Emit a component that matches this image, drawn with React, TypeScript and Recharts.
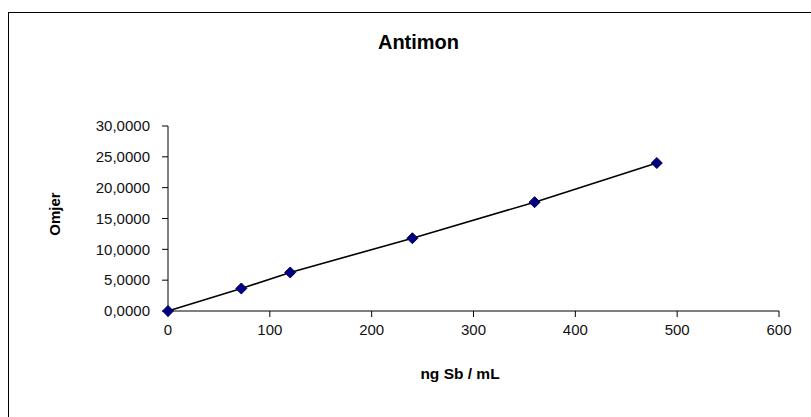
import { ScatterChart, Scatter, XAxis, YAxis } from 'recharts';

const concentration = [0, 72, 120, 240, 360, 480];
const ratio = [0, 3.65, 6.25, 11.8, 17.65, 24.0];
const xTicks = [0, 100, 200, 300, 400, 500, 600];
const yTicks = [0, 5, 10, 15, 20, 25, 30];

const points = concentration.map((x, i) => ({ x, y: ratio[i] }));

const FONT = '"Liberation Sans", Arial, sans-serif';

// excel style diamond marker
function Diamond(props: any) {
  const { cx, cy } = props;
  const r = 5.5;
  return (
    <path
      d={`M${cx},${cy - r}L${cx + r},${cy}L${cx},${cy + r}L${cx - r},${cy}Z`}
      fill="#000080"
      stroke="#00005a"
      strokeWidth={1}
    />
  );
}

export default function App() {
  const fmt = (v: number) => v.toFixed(4).replace('.', ',');
  return (
    <div style={{ position: 'absolute', left: 0, top: 0, width: 811, height: 417, overflow: 'hidden', background: '#fff' }}>
      <div
        style={{
          position: 'absolute',
          left: 8,
          top: 12,
          width: 840,
          height: 440,
          border: '1px solid #000',
          boxSizing: 'border-box',
        }}
      />
      <ScatterChart
        width={811}
        height={417}
        margin={{ top: 126, right: 32, bottom: 76, left: 108 }}
        style={{ position: 'absolute', left: 0, top: 0 }}
      >
        <XAxis
          type="number"
          dataKey="x"
          domain={[0, 600]}
          ticks={xTicks}
          height={30}
          tick={{ fill: '#111', fontSize: 15, fontFamily: FONT }}
          axisLine={{ stroke: '#000' }}
          tickLine={{ stroke: '#000' }}
          tickSize={6}
          tickMargin={7}
          interval={0}
        />
        <YAxis
          type="number"
          dataKey="y"
          domain={[0, 30]}
          ticks={yTicks}
          width={60}
          tick={{ fill: '#111', fontSize: 15, fontFamily: FONT }}
          axisLine={{ stroke: '#000' }}
          tickLine={{ stroke: '#000' }}
          tickSize={6}
          tickMargin={12}
          tickFormatter={fmt}
          interval={0}
        />
        <Scatter
          data={points}
          line={{ stroke: '#000', strokeWidth: 1.6 }}
          shape={Diamond}
          isAnimationActive={false}
        />
      </ScatterChart>
      <svg width={811} height={417} style={{ position: 'absolute', left: 0, top: 0, pointerEvents: 'none' }}>
        <text x={418.5} y={49} textAnchor="middle" fontFamily={FONT} fontWeight="bold" fontSize={20} fill="#000">
          Antimon
        </text>
        <text x={460} y={379} textAnchor="middle" fontFamily={FONT} fontWeight="bold" fontSize={15.5} fill="#000">
          ng Sb / mL
        </text>
        <text
          x={0}
          y={0}
          transform="translate(60,214) rotate(-90)"
          textAnchor="middle"
          fontFamily={FONT}
          fontWeight="bold"
          fontSize={15}
          fill="#000"
        >
          Omjer
        </text>
      </svg>
    </div>
  );
}
